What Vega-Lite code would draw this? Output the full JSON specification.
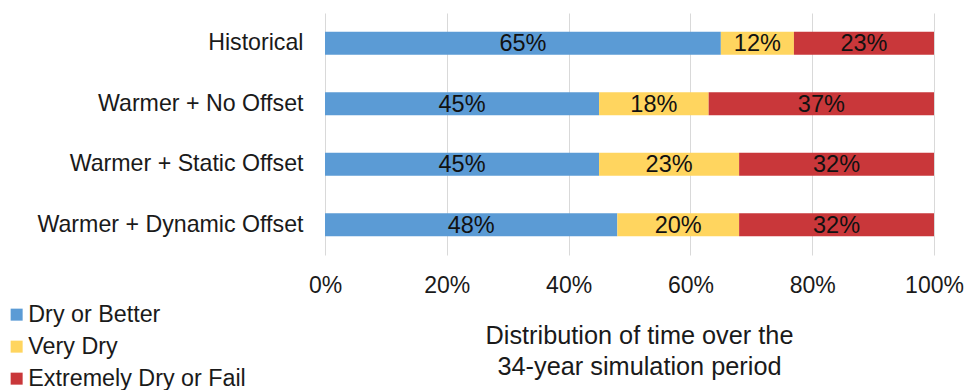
{
  "$schema": "https://vega.github.io/schema/vega-lite/v6.json",
  "autosize": "none",
  "width": 609,
  "height": 242,
  "padding": {"left": 325, "top": 13, "right": 32, "bottom": 135},
  "background": "white",
  "config": {
    "font": "Liberation Sans",
    "view": {"stroke": null},
    "axis": {"labelColor": "#1a1a1a", "titleColor": "#1a1a1a", "labelFont": "Liberation Sans", "titleFont": "Liberation Sans"},
    "legend": {"labelFont": "Liberation Sans"}
  },
  "data": {
    "values": [
      {"scenario": "Historical", "category": "Dry or Better", "share": 65},
      {"scenario": "Historical", "category": "Very Dry", "share": 12},
      {"scenario": "Historical", "category": "Extremely Dry or Fail", "share": 23},
      {"scenario": "Warmer + No Offset", "category": "Dry or Better", "share": 45},
      {"scenario": "Warmer + No Offset", "category": "Very Dry", "share": 18},
      {"scenario": "Warmer + No Offset", "category": "Extremely Dry or Fail", "share": 37},
      {"scenario": "Warmer + Static Offset", "category": "Dry or Better", "share": 45},
      {"scenario": "Warmer + Static Offset", "category": "Very Dry", "share": 23},
      {"scenario": "Warmer + Static Offset", "category": "Extremely Dry or Fail", "share": 32},
      {"scenario": "Warmer + Dynamic Offset", "category": "Dry or Better", "share": 48},
      {"scenario": "Warmer + Dynamic Offset", "category": "Very Dry", "share": 20},
      {"scenario": "Warmer + Dynamic Offset", "category": "Extremely Dry or Fail", "share": 32}
    ]
  },
  "transform": [
    {"calculate": "indexof(['Dry or Better','Very Dry','Extremely Dry or Fail'], datum.category)", "as": "catOrder"},
    {"stack": "share", "groupby": ["scenario"], "sort": [{"field": "catOrder", "order": "ascending"}], "as": ["x0", "x1"]},
    {"calculate": "(datum.x0 + datum.x1) / 2", "as": "xMid"},
    {"calculate": "datum.share + '%'", "as": "shareLabel"}
  ],
  "encoding": {
    "y": {
      "field": "scenario",
      "type": "nominal",
      "sort": ["Historical", "Warmer + No Offset", "Warmer + Static Offset", "Warmer + Dynamic Offset"],
      "scale": {"paddingInner": 0.62, "paddingOuter": 0.31},
      "axis": {"title": null, "domain": false, "ticks": false, "labelFontSize": 23.2, "labelPadding": 22, "labelLimit": 400}
    }
  },
  "resolve": {"axis": {"x": "independent"}},
  "layer": [
    {
      "mark": {"type": "bar"},
      "encoding": {
        "x": {
          "field": "x0",
          "type": "quantitative",
          "scale": {"domain": [0, 100], "nice": false},
          "axis": {
            "values": [0, 20, 40, 60, 80, 100],
            "labelExpr": "datum.value + '%'",
            "labelFlush": false,
            "labelAlign": "center",
            "labelBound": false,
            "domain": false,
            "ticks": false,
            "grid": true,
            "gridColor": "#D9D9D9",
            "gridWidth": 1,
            "labelFontSize": 23,
            "labelPadding": 19,
            "title": ["Distribution of time over the", "34-year simulation period"],
            "titleFontSize": 25.3,
            "titleFontWeight": "normal",
            "titleLineHeight": 31,
            "titleX": 314,
            "titleY": 68,
            "titleBaseline": "top",
            "titleAlign": "center"
          }
        },
        "x2": {"field": "x1"},
        "color": {
          "field": "category",
          "type": "nominal",
          "scale": {
            "domain": ["Dry or Better", "Very Dry", "Extremely Dry or Fail"],
            "range": ["#5B9BD5", "#FFD55F", "#C9373A"]
          },
          "legend": {
            "title": null,
            "orient": "none",
            "legendX": -320,
            "legendY": 290,
            "symbolType": "square",
            "symbolSize": 144,
            "symbolStrokeWidth": 0,
            "labelFontSize": 23.3,
            "labelColor": "#1a1a1a",
            "labelLimit": 400,
            "labelOffset": 0,
            "rowPadding": 8,
            "padding": 0
          }
        }
      }
    },
    {
      "mark": {"type": "text", "fontSize": 23.5, "color": "#111111", "align": "center", "baseline": "middle", "dy": 1},
      "encoding": {
        "x": {"field": "xMid", "type": "quantitative", "axis": null},
        "text": {"field": "shareLabel", "type": "nominal"}
      }
    }
  ]
}
